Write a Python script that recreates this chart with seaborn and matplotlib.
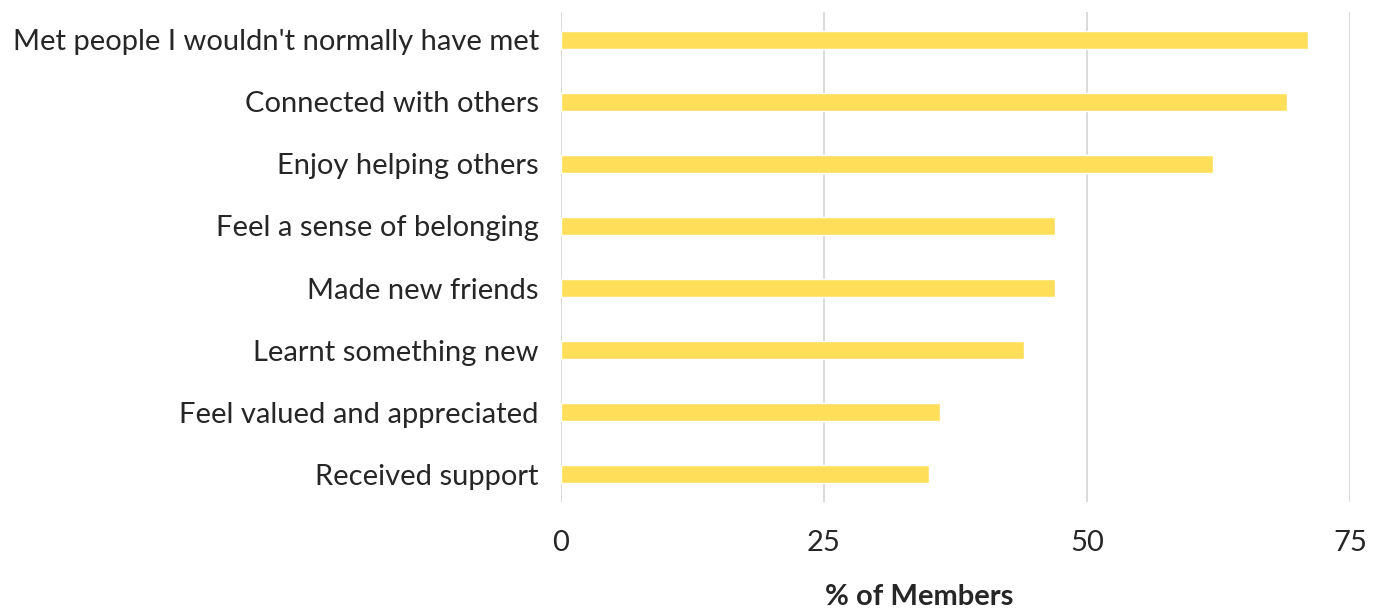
import matplotlib
matplotlib.use("Agg")
import matplotlib.pyplot as plt
import seaborn as sns
import pandas as pd

categories = [
    "Met people I wouldn't normally have met",
    "Connected with others",
    "Enjoy helping others",
    "Feel a sense of belonging",
    "Made new friends",
    "Learnt something new",
    "Feel valued and appreciated",
    "Received support",
]
values = [71, 69, 62, 47, 47, 44, 36, 35]
x_ticks = [0, 25, 50, 75]

sns.set_theme(style="white")
plt.rcParams["font.family"] = ["Lato", "DejaVu Sans"]

df = pd.DataFrame({"cat": categories, "val": values})

fig = plt.figure(figsize=(13.8, 6.13), dpi=100)
ax = fig.add_axes([561 / 1380, 1 - 502 / 613, 789 / 1380, 490 / 613])

sns.barplot(data=df, x="val", y="cat", color="#FFDE5A", width=0.28,
            saturation=1, ax=ax, zorder=3)

ax.set_xlim(0, 75)
ax.set_ylim(7.45, -0.45)
ax.set_xticks(x_ticks)
ax.set_xticklabels([str(t) for t in x_ticks])
ax.xaxis.grid(True, color="#d4d4d4", linewidth=1.2, zorder=0)
ax.yaxis.grid(False)
for s in ax.spines.values():
    s.set_visible(False)
ax.tick_params(axis="both", length=0, colors="#262626", labelsize=21)
ax.tick_params(axis="x", pad=20)
ax.tick_params(axis="y", pad=16)
ax.set_ylabel("")
ax.set_xlabel("% of Members", fontsize=21, fontweight="bold", color="#262626",
              labelpad=20)
ax.xaxis.label.set_x((919 - 561) / 789)

fig.savefig("out.png", dpi=100)
